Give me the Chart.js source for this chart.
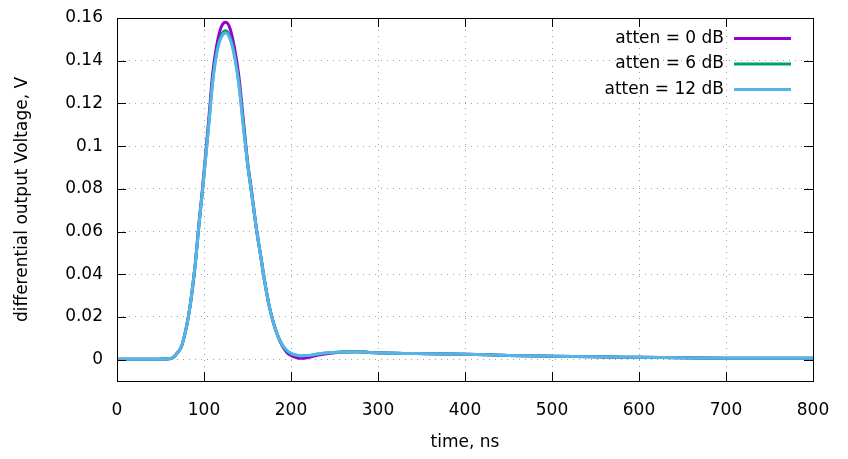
<html>
<head>
	<title>differential output voltage</title>
	<script type="text/javascript" src="https://cdn.jsdelivr.net/npm/chart.js@4.4.0/dist/chart.umd.min.js"></script>
	<style type="text/css">
	body{
		margin: 0;
		background-color: #fff;
	}
	#canvas-container{
		width: 848px;
		height: 459px;
	}
	</style>
	<script type="text/javascript">
	// time axis, ns
	var tiempos = [0, 20, 40, 55, 62, 66, 70, 74, 78, 82, 86, 90, 94, 98, 102, 106, 110, 115, 120, 125,
		130, 135, 140, 145, 150, 155, 160, 165, 170, 175, 180, 185, 190, 195, 200, 206, 212, 220, 230, 245,
		260, 275, 290, 320, 360, 400, 450, 500, 550, 600, 650, 700, 750, 800];

	// output voltage, V
	var aten0 = [0.0002, 0.0002, 0.0002, 0.0003, 0.0005, 0.0015, 0.0035, 0.006, 0.012, 0.02, 0.031, 0.045, 0.063, 0.079, 0.097, 0.115, 0.134, 0.148, 0.156, 0.158,
		0.155, 0.146, 0.133, 0.113, 0.093, 0.078, 0.062, 0.049, 0.036, 0.025, 0.017, 0.011, 0.0065, 0.0035, 0.002, 0.001, 0.0006, 0.001, 0.002, 0.003,
		0.0036, 0.0037, 0.0034, 0.003, 0.0028, 0.0025, 0.002, 0.0016, 0.0013, 0.0011, 0.0009, 0.0007, 0.0006, 0.0006];
	var aten6 = [0.0002, 0.0002, 0.0002, 0.0003, 0.0005, 0.0015, 0.0035, 0.006, 0.012, 0.02, 0.031, 0.045, 0.062, 0.078, 0.095, 0.113, 0.131, 0.145, 0.152, 0.154,
		0.151, 0.143, 0.130, 0.111, 0.092, 0.077, 0.062, 0.049, 0.036, 0.025, 0.017, 0.011, 0.0068, 0.0042, 0.0028, 0.002, 0.0017, 0.0019, 0.0025, 0.0032,
		0.0036, 0.0037, 0.0034, 0.003, 0.0028, 0.0025, 0.002, 0.0016, 0.0013, 0.0011, 0.0009, 0.0007, 0.0006, 0.0006];
	var aten12 = [0.0002, 0.0002, 0.0002, 0.0003, 0.0005, 0.0015, 0.0035, 0.006, 0.012, 0.02, 0.031, 0.045, 0.062, 0.078, 0.095, 0.112, 0.130, 0.144, 0.151, 0.153,
		0.150, 0.142, 0.129, 0.110, 0.092, 0.077, 0.062, 0.049, 0.036, 0.025, 0.017, 0.011, 0.007, 0.0045, 0.003, 0.0022, 0.0018, 0.002, 0.0026, 0.0033,
		0.0036, 0.0037, 0.0034, 0.003, 0.0028, 0.0025, 0.002, 0.0016, 0.0013, 0.0011, 0.0009, 0.0007, 0.0006, 0.0006];

	var etiquetas = ["atten = 0 dB", "atten = 6 dB", "atten = 12 dB"];
	var colores = ["#9400d3", "#009e73", "#56b4e9"];

	var fuente = "'DejaVu Sans', sans-serif";

	function puntos(serie){
		return tiempos.map(function(t, i){ return {x: t, y: serie[i]}; });
	}

	// gnuplot-like frame, inward ticks and legend
	var marco = {
		id: "marco",
		afterDraw: function(chart){
			var ctx = chart.ctx;
			var a = chart.chartArea;
			var sx = chart.scales.x, sy = chart.scales.y;
			ctx.save();
			ctx.strokeStyle = "#000";
			ctx.lineWidth = 1;
			ctx.beginPath();
			sx.ticks.forEach(function(t){
				var px = Math.round(sx.getPixelForValue(t.value)) + 0.5;
				ctx.moveTo(px, a.bottom); ctx.lineTo(px, a.bottom - 9);
				ctx.moveTo(px, a.top); ctx.lineTo(px, a.top + 9);
			});
			sy.ticks.forEach(function(t){
				var py = Math.round(sy.getPixelForValue(t.value)) + 0.5;
				ctx.moveTo(a.left, py); ctx.lineTo(a.left + 9, py);
				ctx.moveTo(a.right, py); ctx.lineTo(a.right - 9, py);
			});
			ctx.stroke();
			ctx.strokeRect(Math.round(a.left) + 0.5, Math.round(a.top) + 0.5, Math.round(a.right - a.left), Math.round(a.bottom - a.top));

			// legend
			ctx.font = "17px " + fuente;
			ctx.textAlign = "right";
			ctx.textBaseline = "middle";
			chart.data.datasets.forEach(function(ds, i){
				var y = 38.5 + i * 25.5;
				ctx.fillStyle = "#000";
				ctx.fillText(ds.label, 724, y);
				ctx.strokeStyle = ds.borderColor;
				ctx.lineWidth = 3;
				ctx.beginPath();
				ctx.moveTo(734, y); ctx.lineTo(791, y);
				ctx.stroke();
			});
			ctx.restore();
		}
	};

	window.onload = function(){
		var datasets = [aten0, aten6, aten12].map(function(serie, i){
			return {
				label: etiquetas[i],
				data: puntos(serie),
				borderColor: colores[i],
				backgroundColor: colores[i],
				borderWidth: 3,
				pointRadius: 0,
				order: 2 - i,
				cubicInterpolationMode: "monotone",
				fill: false
			};
		});

		var canvas = document.getElementById("chart").getContext("2d");
		window.grafico = new Chart(canvas, {
			type: "line",
			data: { datasets: datasets },
			plugins: [marco],
			options: {
				responsive: false,
				animation: false,
				layout: { padding: { top: 18, right: 35, left: 0, bottom: 0 } },
				plugins: {
					legend: { display: false },
					tooltip: { enabled: false }
				},
				scales: {
					x: {
						type: "linear",
						min: 0,
						max: 800,
						afterFit: function(s){ s.height = 78; s.paddingLeft = 0; s.paddingRight = 0; },
						border: { display: false, dash: [1, 5] },
						grid: { color: "#a0a0a0", drawTicks: false, lineWidth: 1 },
						ticks: { stepSize: 100, padding: 19, color: "#000", font: { family: fuente, size: 17 } },
						title: { display: true, text: "time, ns", color: "#000", padding: { top: 0, bottom: 6 }, font: { family: fuente, size: 17 } }
					},
					y: {
						type: "linear",
						min: -0.01,
						max: 0.16,
						afterFit: function(s){ s.width = 117; s.paddingTop = 0; s.paddingBottom = 0; },
						afterBuildTicks: function(s){
							s.ticks = s.ticks.filter(function(t){ return t.value > -0.005; });
						},
						border: { display: false, dash: [1, 5] },
						grid: { color: "#a0a0a0", drawTicks: false, lineWidth: 1 },
						ticks: {
							stepSize: 0.02,
							padding: 14,
							color: "#000",
							font: { family: fuente, size: 17 },
							callback: function(v){ return String(Number(v.toFixed(2))); }
						},
						title: { display: true, text: "differential output Voltage, V", color: "#000", padding: { top: 12, bottom: 0 }, font: { family: fuente, size: 17 } }
					}
				}
			}
		});
	};
	</script>
</head>
<body>
	<div id="canvas-container">
		<canvas id="chart" width="848" height="459"></canvas>
	</div>
</body>
</html>
